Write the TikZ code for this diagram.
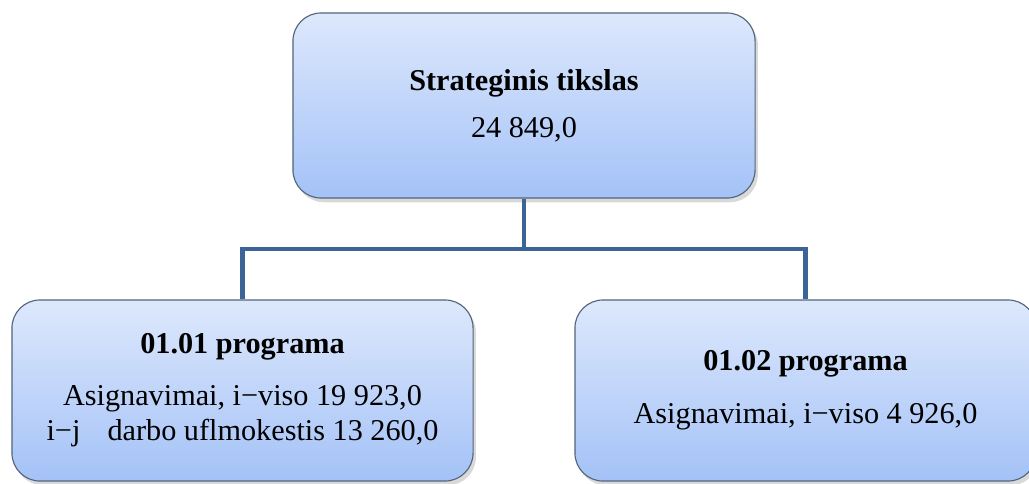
\documentclass[tikz,border=0pt]{standalone}
\usepackage{fontspec}
\setmainfont{Liberation Serif}
\usetikzlibrary{shadows}
\definecolor{boxtop}{HTML}{DDE8FC}
\definecolor{boxbot}{HTML}{A4C2F7}
\definecolor{boxline}{HTML}{53657A}
\definecolor{linkblue}{HTML}{3C6496}

\begin{document}
\begin{tikzpicture}[x=0.025cm,y=-0.025cm,
  goalbox/.style={draw=boxline, line width=0.8pt, rounded corners=0.7cm,
    top color=boxtop, bottom color=boxbot,
    minimum width=11.525cm, minimum height=4.525cm,
    align=center, inner sep=0pt, font=\fontsize{21.5}{25.5}\selectfont,
    drop shadow={opacity=0.3, shadow xshift=2pt, shadow yshift=-3pt}},
  link/.style={draw=linkblue, line width=3.5pt}]
  \useasboundingbox (0,0) rectangle (1029,483);

  \node[goalbox, minimum width=11.55cm, minimum height=4.625cm] (goal) at (524,105.5)
    {\textbf{Strateginis tikslas}\\[8pt] 24 849,0};
  \node[goalbox] (prog1) at (242.5,390.5)
    {\textbf{01.01 programa}\\[11pt] Asignavimai, i−viso 19 923,0\\
     i−j \hspace{0.4em} darbo uflmokestis 13 260,0};
  \node[goalbox] (prog2) at (805.5,390.5)
    {\textbf{01.02 programa}\\[12pt] Asignavimai, i−viso 4 926,0};

  % tree lines
  \coordinate (fork) at (524,249);
  \draw[link] (goal.south) -- (fork);
  \draw[link] (prog1.north) |- (fork) -| (prog2.north);
\end{tikzpicture}
\end{document}
